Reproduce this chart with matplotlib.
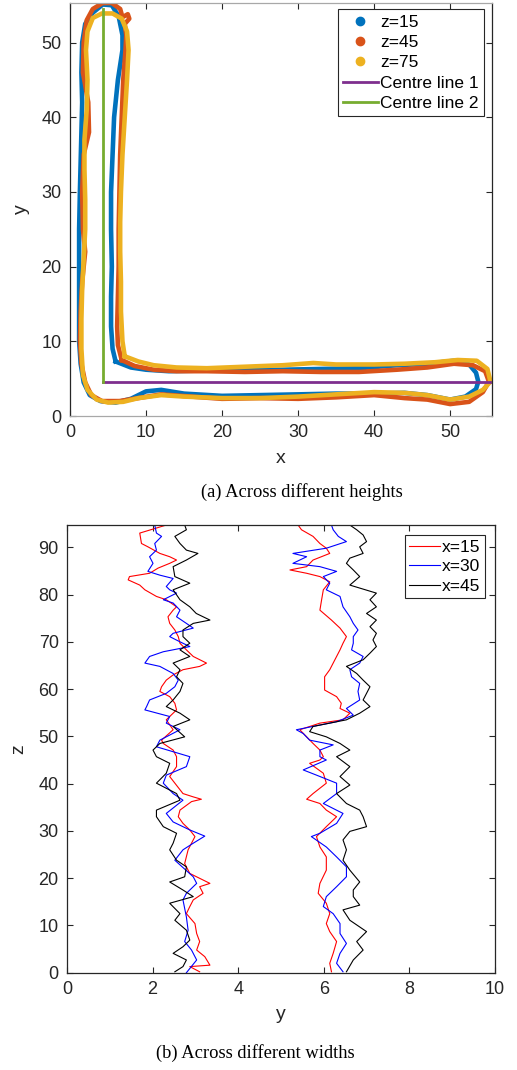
import matplotlib
matplotlib.use("Agg")
import matplotlib.pyplot as plt
from matplotlib.lines import Line2D

plt.rcParams['font.family'] = ['Liberation Sans', 'DejaVu Sans']

# ---- (a) outlines at different heights ----
z15_x = [6.0, 5.6, 5.4, 5.4, 5.5, 5.4, 5.4, 5.6, 5.8, 6.3, 6.9, 6.9, 6.4, 5.5, 4.3, 3.0, 2.0, 1.6, 1.5, 1.6,
         1.5, 1.4, 1.3, 1.2, 1.2, 1.2, 1.2, 1.4, 1.8, 2.6, 4.0, 6.0, 8.0, 10.0, 12.0, 15.0, 20.0, 25.0, 30.0, 35.0,
         40.0, 44.0, 47.0, 50.0, 52.0, 53.4, 53.7, 53.4, 52.5, 50.5, 47.0, 43.0, 38.0, 33.0, 28.0, 23.0, 18.0, 13.0,
         10.0, 8.0, 6.0]
z15_y = [7.3, 9.0, 12.0, 16.0, 20.0, 25.0, 30.0, 35.0, 40.0, 45.0, 49.0, 51.0, 53.5, 55.0, 55.1, 54.0, 52.5, 50.0,
         46.0, 42.0, 38.0, 34.0, 30.0, 25.0, 20.0, 15.0, 10.0, 7.0, 4.5, 2.8, 2.0, 1.8, 2.3, 3.3, 3.5, 3.0, 2.7, 2.8,
         2.9, 3.0, 3.0, 3.1, 2.8, 2.2, 2.6, 3.6, 4.6, 5.8, 6.9, 7.4, 7.0, 6.8, 6.4, 6.3, 6.2, 6.1, 6.1, 6.0, 6.2,
         6.5, 7.3]

z45_x = [6.8, 6.3, 6.2, 6.3, 6.4, 6.4, 6.5, 6.6, 6.8, 7.0, 7.3, 7.4, 7.2, 7.8, 7.6, 6.9, 6.6, 5.5, 4.3, 3.0,
         2.2, 1.8, 1.7, 2.4, 2.5, 1.8, 1.6, 1.7, 2.0, 1.6, 1.4, 1.3, 1.5, 2.0, 2.8, 4.2, 6.5, 9.0, 12.0, 16.0,
         20.0, 25.0, 30.0, 35.0, 40.0, 44.0, 47.0, 50.0, 52.5, 54.3, 55.1, 54.6, 53.0, 50.5, 47.0, 43.0, 38.0, 33.0,
         28.0, 23.0, 18.0, 14.0, 11.0, 8.5, 6.8]
z45_y = [7.5, 9.5, 12.0, 16.0, 20.0, 25.0, 30.0, 35.0, 40.0, 45.0, 49.0, 51.0, 52.5, 53.2, 53.8, 53.4, 54.5, 55.3,
         55.3, 54.5, 53.0, 50.0, 46.0, 42.0, 38.0, 35.0, 30.0, 25.0, 22.0, 18.0, 14.0, 10.0, 7.0, 4.5, 2.8, 2.0,
         2.0, 2.4, 2.9, 2.6, 2.3, 2.4, 2.3, 2.5, 2.8, 2.4, 2.2, 1.6, 1.9, 3.2, 4.6, 6.0, 6.8, 7.0, 6.5, 6.2, 5.9,
         5.9, 6.0, 5.9, 6.0, 6.0, 6.2, 6.7, 7.5]

z75_x = [7.2, 6.9, 6.7, 6.7, 6.6, 6.6, 6.7, 6.9, 7.2, 7.5, 7.7, 7.5, 6.8, 5.6, 4.2, 3.0, 2.3, 2.1, 2.3, 2.2,
         1.9, 1.9, 2.0, 2.0, 1.8, 1.6, 1.5, 1.5, 1.7, 2.3, 3.5, 5.0, 7.0, 9.0, 12.0, 15.0, 20.0, 25.0, 30.0, 35.0,
         40.0, 44.0, 47.0, 50.0, 52.5, 54.3, 55.3, 54.9, 53.5, 51.0, 48.0, 44.0, 40.0, 35.0, 32.0, 28.0, 23.0, 18.0,
         14.0, 11.0, 9.0, 7.2]
z75_y = [8.0, 10.0, 14.0, 18.0, 22.0, 26.0, 30.0, 35.0, 40.0, 45.0, 49.0, 51.5, 53.2, 53.9, 53.9, 53.3, 51.5, 49.0,
         45.0, 41.0, 37.0, 33.0, 29.0, 25.0, 21.0, 17.0, 13.0, 9.0, 5.5, 3.5, 2.2, 1.8, 1.9, 2.4, 2.8, 2.6, 2.4,
         2.4, 2.6, 2.9, 3.2, 3.1, 2.8, 2.2, 2.6, 3.5, 4.6, 6.3, 7.4, 7.5, 7.2, 7.0, 6.9, 6.9, 7.1, 6.8, 6.6, 6.4,
         6.5, 6.8, 7.3, 8.0]

centre1_x = [4.3, 55.3]
centre1_y = [4.5, 4.5]
centre2_x = [4.3, 4.3]
centre2_y = [4.5, 54.5]

# ---- (b) wall positions across widths ----
# left wall
red_l_z = [94.7, 93.0, 90.8, 90.1, 88.7, 88.0, 87.3, 86.6, 85.6, 84.5, 83.8, 83.1, 82.0, 81.0, 79.6, 78.9, 77.4,
           76.7, 75.3, 73.9, 72.5, 71.1, 69.7, 68.3, 66.9, 65.5, 64.8, 64.1, 63.0, 61.9, 60.5, 59.5, 58.4, 57.0,
           55.6, 53.5, 51.4, 49.2, 48.5, 47.1, 45.7, 43.6, 41.5, 37.9, 37.2, 36.7, 36.2, 34.4, 33.0, 31.6, 30.2,
           28.8, 27.4, 26.0, 23.1, 21.0, 18.9, 18.2, 16.8, 15.4, 14.0, 12.5, 10.4, 8.3, 6.6, 4.8, 3.4, 1.6, 1.3, 0.2]
red_l_y = [2.32, 1.70, 1.74, 1.89, 2.17, 2.40, 2.56, 2.40, 2.13, 1.93, 1.46, 1.43, 1.70, 1.82, 2.09, 2.32, 2.56,
           2.48, 2.36, 2.40, 2.52, 2.60, 2.64, 2.79, 2.95, 3.26, 3.10, 2.71, 2.48, 2.32, 2.21, 2.17, 2.40, 2.52,
           2.56, 2.32, 2.48, 2.21, 2.25, 2.48, 2.56, 2.56, 2.40, 2.71, 2.95, 3.14, 2.91, 2.64, 2.60, 2.71, 2.87,
           2.99, 2.91, 2.83, 2.75, 2.87, 3.34, 3.10, 3.18, 2.95, 2.87, 2.79, 2.99, 3.03, 3.10, 3.03, 3.22, 3.34,
           2.87, 3.10]

blue_l_z = [94.7, 93.0, 92.3, 90.8, 89.4, 88.0, 86.6, 84.9, 84.1, 83.4, 81.7, 81.0, 80.3, 78.9, 78.2, 76.7, 75.3,
            73.9, 72.9, 71.8, 71.1, 70.0, 69.0, 67.9, 66.9, 65.5, 64.8, 63.3, 61.9, 60.5, 59.1, 57.7, 56.3, 55.6,
            54.2, 52.8, 51.4, 49.2, 47.8, 45.7, 43.6, 41.8, 40.1, 37.9, 36.5, 33.7, 31.9, 30.2, 28.9, 27.4, 26.0,
            23.8, 20.3, 18.9, 16.8, 15.4, 11.8, 9.0, 6.6, 4.8, 2.7, 0.0]
blue_l_y = [2.05, 2.09, 2.21, 2.05, 2.09, 1.93, 2.01, 1.89, 2.17, 2.48, 2.32, 2.40, 2.56, 2.25, 2.48, 2.64, 2.56,
            2.79, 2.95, 2.48, 2.40, 2.64, 2.87, 2.25, 1.93, 1.82, 2.17, 2.48, 2.60, 2.52, 2.32, 1.93, 1.86, 1.82,
            2.40, 2.32, 2.64, 2.17, 2.09, 2.87, 2.79, 2.32, 2.25, 2.48, 2.71, 2.32, 2.48, 2.87, 3.22, 2.95, 2.71,
            2.52, 2.95, 3.03, 2.79, 2.71, 2.79, 2.83, 2.75, 2.91, 3.03, 2.79]

black_l_z = [94.7, 93.7, 92.3, 90.8, 89.4, 88.7, 87.3, 85.9, 83.8, 82.4, 81.0, 78.9, 77.4, 76.0, 74.6, 73.9, 72.5,
             71.1, 69.7, 68.3, 66.9, 65.5, 64.1, 62.6, 61.2, 59.5, 57.7, 56.3, 54.9, 53.5, 52.1, 49.9, 48.5, 47.1,
             45.7, 44.3, 42.2, 40.1, 37.9, 36.5, 34.4, 33.0, 30.9, 29.5, 27.4, 26.0, 23.8, 22.4, 20.3, 19.2, 17.5,
             16.1, 14.7, 12.5, 11.1, 9.0, 6.9, 5.5, 4.1, 2.7, 1.3, 0.2]
black_l_y = [2.75, 2.79, 2.52, 2.64, 2.79, 3.06, 2.79, 2.48, 2.52, 2.87, 2.48, 2.64, 2.87, 3.02, 3.34, 2.95, 2.71,
             2.71, 2.87, 2.64, 2.87, 2.48, 2.64, 2.56, 2.71, 2.64, 2.48, 2.32, 2.64, 2.87, 2.48, 2.75, 2.17, 2.01,
             2.09, 2.40, 2.32, 2.09, 2.56, 2.64, 2.09, 2.09, 2.25, 2.56, 2.48, 2.40, 2.56, 2.79, 2.75, 2.40, 2.71,
             2.95, 2.40, 2.64, 2.52, 2.79, 2.87, 2.71, 2.48, 2.79, 2.71, 2.52]

# right wall
red_r_z = [94.7, 93.7, 92.3, 90.8, 89.8, 88.7, 87.3, 85.9, 85.2, 84.5, 83.8, 82.7, 81.0, 78.9, 76.7, 74.6, 72.9,
           71.1, 69.7, 68.3, 66.9, 65.5, 64.1, 62.6, 59.8, 58.4, 57.0, 55.9, 54.9, 53.5, 52.8, 51.4, 49.9, 48.5,
           47.1, 45.7, 45.0, 44.3, 42.2, 40.1, 37.9, 36.7, 35.8, 34.4, 33.0, 30.9, 28.8, 26.6, 24.5, 21.7, 18.9,
           16.8, 14.7, 12.5, 10.4, 8.7, 6.6, 4.1, 2.0, 0.2]
red_r_y = [5.40, 5.48, 5.75, 5.91, 6.06, 6.14, 5.75, 5.60, 5.21, 5.60, 5.91, 6.14, 5.99, 5.95, 5.91, 6.18, 6.38,
           6.53, 6.45, 6.38, 6.30, 6.22, 6.14, 6.02, 6.02, 6.30, 6.41, 6.38, 6.61, 6.45, 5.91, 5.44, 5.60, 5.75,
           5.91, 5.99, 5.91, 5.67, 5.99, 6.06, 5.75, 5.60, 5.91, 6.06, 6.30, 6.06, 5.83, 5.91, 6.06, 6.06, 5.91,
           5.87, 6.06, 6.14, 6.06, 6.14, 6.30, 6.22, 6.14, 6.18]

blue_r_z = [94.7, 93.7, 92.3, 91.2, 89.8, 88.7, 88.0, 86.6, 85.9, 84.9, 83.8, 82.4, 81.0, 79.6, 77.4, 75.3, 73.9,
            72.5, 71.1, 69.7, 68.3, 66.9, 65.5, 64.1, 62.6, 61.2, 59.5, 57.7, 55.9, 54.5, 53.1, 51.4, 50.6, 49.2,
            48.2, 47.1, 45.7, 45.0, 42.9, 41.8, 40.1, 37.9, 35.8, 33.7, 31.6, 29.5, 28.8, 26.6, 24.5, 22.4, 20.3,
            18.2, 16.1, 14.0, 12.5, 10.4, 8.3, 6.2, 4.1, 2.0, 0.2]
blue_r_y = [6.18, 6.22, 6.34, 6.53, 6.06, 5.28, 5.60, 5.28, 5.91, 6.30, 5.99, 6.14, 6.06, 6.38, 6.45, 6.61, 6.69,
            6.80, 6.69, 6.69, 6.65, 6.92, 6.84, 6.61, 6.65, 6.84, 6.80, 6.84, 6.53, 6.69, 6.30, 5.36, 5.52, 5.67,
            6.22, 5.91, 5.91, 6.06, 5.52, 5.83, 6.30, 6.30, 5.99, 6.45, 6.30, 5.91, 5.71, 6.06, 6.30, 6.53, 6.53,
            6.30, 6.06, 5.99, 6.22, 6.38, 6.38, 6.53, 6.38, 6.30, 6.45]

black_r_z = [94.7, 93.7, 92.6, 91.2, 90.1, 88.7, 87.7, 86.6, 85.2, 83.8, 82.0, 80.3, 78.9, 77.4, 76.0, 74.6, 73.2,
             71.8, 70.4, 69.0, 67.6, 66.2, 64.8, 63.3, 61.9, 60.5, 59.1, 57.7, 56.3, 54.9, 53.5, 52.1, 51.0, 49.9,
             48.5, 47.1, 45.7, 43.6, 41.5, 39.7, 37.9, 35.8, 34.4, 33.0, 30.9, 29.9, 28.1, 26.0, 23.8, 21.7, 19.2,
             17.5, 16.1, 14.3, 13.3, 11.1, 8.7, 6.6, 4.8, 2.7, 0.2]
black_r_y = [6.61, 6.77, 6.92, 7.00, 6.84, 6.92, 6.61, 6.53, 6.69, 6.84, 6.61, 7.23, 7.08, 7.23, 7.00, 7.23, 7.08,
             7.23, 7.15, 7.23, 7.08, 6.92, 6.53, 6.77, 6.92, 7.08, 7.00, 6.92, 7.08, 6.84, 6.53, 5.75, 5.67, 6.06,
             6.38, 6.61, 6.30, 6.61, 6.38, 6.61, 6.30, 6.53, 6.84, 6.92, 7.00, 6.61, 6.45, 6.53, 6.45, 6.61, 6.84,
             6.69, 6.69, 6.84, 6.45, 6.61, 7.00, 6.77, 6.92, 6.69, 6.53]

C_BLUE, C_ORANGE, C_YELLOW = '#0072BD', '#D95319', '#EDB120'
C_PURPLE, C_GREEN = '#7E2F8E', '#77AC30'
AX_COL = '#262626'


def style_axes(ax):
    ax.tick_params(direction='in', top=True, right=True, length=4, width=0.8,
                   labelsize=13, colors=AX_COL, pad=6)
    for s in ax.spines.values():
        s.set_color(AX_COL)
        s.set_linewidth(0.9)


fig = plt.figure(figsize=(5.17, 10.70), dpi=100)

# ---------------- top panel ----------------
ax1 = fig.add_axes([0.1354, 0.6112, 0.8162, 0.3860])
ax1.plot(z15_x, z15_y, color=C_BLUE, lw=3.3, solid_joinstyle='round')
ax1.plot(z45_x, z45_y, color=C_ORANGE, lw=3.3, solid_joinstyle='round')
ax1.plot(z75_x, z75_y, color=C_YELLOW, lw=3.3, solid_joinstyle='round')
ax1.plot(centre1_x, centre1_y, color=C_PURPLE, lw=2.0)
ax1.plot(centre2_x, centre2_y, color=C_GREEN, lw=2.0)
ax1.set_xlim(0, 55.5)
ax1.set_ylim(0, 55.3)
ax1.set_xticks([0, 10, 20, 30, 40, 50])
ax1.set_yticks([0, 10, 20, 30, 40, 50])
style_axes(ax1)
ax1.spines['top'].set_color('#a8a8a8')
ax1.spines['bottom'].set_color('#a8a8a8')
ax1.set_xlabel('x', fontsize=14, color=AX_COL, labelpad=6)
ax1.set_ylabel('y', fontsize=14, color=AX_COL, labelpad=8)

handles = [
    Line2D([], [], ls='none', marker='o', ms=6, color=C_BLUE),
    Line2D([], [], ls='none', marker='o', ms=6, color=C_ORANGE),
    Line2D([], [], ls='none', marker='o', ms=6, color=C_YELLOW),
    Line2D([], [], color=C_PURPLE, lw=2),
    Line2D([], [], color=C_GREEN, lw=2),
]
leg1 = ax1.legend(handles, ['z=15', 'z=45', 'z=75', 'Centre line 1', 'Centre line 2'],
                  loc='upper right', bbox_to_anchor=(0.99, 0.993), fontsize=12.5,
                  frameon=True, fancybox=False, edgecolor=AX_COL, framealpha=1,
                  handlelength=2.0, handletextpad=0.15, borderpad=0.3, labelspacing=0.3,
                  borderaxespad=0.2)
leg1.get_frame().set_linewidth(0.8)
fig.text(0.584, 0.54, '(a) Across different heights', ha='center', va='center',
         fontsize=13.3, family='Liberation Serif')

# ---------------- bottom panel ----------------
ax2 = fig.add_axes([0.1296, 0.0909, 0.8277, 0.4184])
ax2.plot(red_l_y, red_l_z, color='red', lw=0.8, label='x=15')
ax2.plot(blue_l_y, blue_l_z, color='blue', lw=0.8, label='x=30')
ax2.plot(black_l_y, black_l_z, color='black', lw=0.8, label='x=45')
ax2.plot(red_r_y, red_r_z, color='red', lw=0.8)
ax2.plot(blue_r_y, blue_r_z, color='blue', lw=0.8)
ax2.plot(black_r_y, black_r_z, color='black', lw=0.8)
ax2.set_xlim(0, 10)
ax2.set_ylim(0, 94.7)
ax2.set_xticks([0, 2, 4, 6, 8, 10])
ax2.set_yticks(range(0, 91, 10))
style_axes(ax2)
ax2.set_xlabel('y', fontsize=14, color=AX_COL, labelpad=6)
ax2.set_ylabel('z', fontsize=14, color=AX_COL, labelpad=8)
leg2 = ax2.legend(loc='upper right', bbox_to_anchor=(0.985, 0.985), fontsize=12.5,
                  frameon=True, fancybox=False, edgecolor=AX_COL, framealpha=1,
                  handlelength=1.8, handletextpad=0.1, borderpad=0.25, labelspacing=0.25,
                  borderaxespad=0.2)
leg2.get_frame().set_linewidth(0.8)
fig.text(0.493, 0.016, '(b) Across different widths', ha='center', va='center',
         fontsize=13.3, family='Liberation Serif')

fig.savefig('out.png', dpi=100)
